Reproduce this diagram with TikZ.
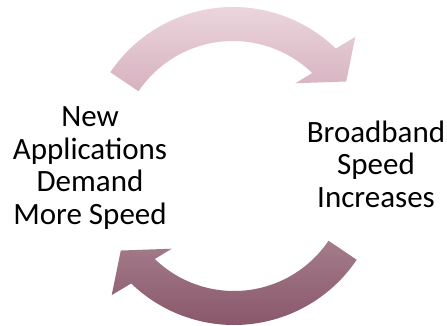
\documentclass[tikz,border=0pt]{standalone}
\usepackage{fontspec}
\setmainfont{Carlito}
\usetikzlibrary{shapes}

\definecolor{rosetop}{RGB}{236,214,222}
\definecolor{rosebot}{RGB}{214,178,191}
\definecolor{plumtop}{RGB}{164,124,138}
\definecolor{plumbot}{RGB}{136,86,106}

\begin{document}
\begin{tikzpicture}[x=1pt,y=1pt]
\fontsize{31}{32.5}\selectfont
\tikzstyle{every node}=[align=center,inner sep=0pt];
\useasboundingbox (0,0) rectangle (447,325);
\coordinate (c1) at (233,170);
\coordinate (c2) at (234,148);
% upper arrow, left to right
\shade [top color=rosetop, bottom color=rosebot] ([shift={(146:148pt)}]c1)
  arc [start angle=146, end angle=46, radius=148pt]
  -- ([shift={(44:170pt)}]c1) -- ([shift={(33:135pt)}]c1) -- ([shift={(49:95pt)}]c1)
  -- ([shift={(46:114pt)}]c1)
  arc [start angle=46, end angle=146, radius=114pt] -- cycle;
% lower arrow, right to left
\shade [top color=plumtop, bottom color=plumbot] ([shift={(326:148pt)}]c2)
  arc [start angle=326, end angle=226, radius=148pt]
  -- ([shift={(224:170pt)}]c2) -- ([shift={(213:135pt)}]c2) -- ([shift={(229:95pt)}]c2)
  -- ([shift={(226:114pt)}]c2)
  arc [start angle=226, end angle=326, radius=114pt] -- cycle;
\node (apps) at (90,157) {New\\Applications\\Demand\\More Speed};
\node (speed) at (376,161) {Broadband\\Speed\\Increases};
\end{tikzpicture}
\end{document}
